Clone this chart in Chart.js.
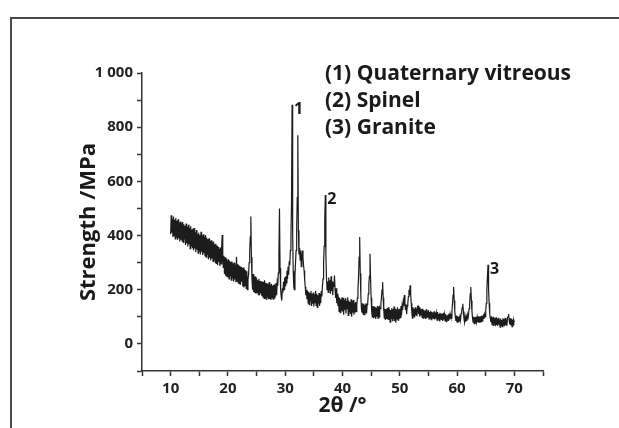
<!DOCTYPE html>
<html>
<head>
<meta charset="utf-8">
<script src="https://cdn.jsdelivr.net/npm/chart.js@4.4.1/dist/chart.umd.min.js"></script>
<style>
  html,body{margin:0;padding:0;background:#fff;}
  #wrap{position:relative;width:619px;height:428px;overflow:hidden;}
  #frame{position:absolute;left:10px;top:17px;width:640px;height:440px;border-top:2px solid #4a4a4a;border-left:2px solid #4a4a4a;}
  canvas{position:absolute;left:0;top:0;}
</style>
</head>
<body>
<div id="wrap">
  <div id="frame"></div>
  <canvas id="c" width="619" height="428"></canvas>
</div>
<script>
// 2θ sampling of the pattern (degrees)
const angleStart = 10.0;
const angleStep = 0.1;
// Strength values, one per 0.1° from 10° to 70° (rows of 2°)
const strength = [
  405,475,410,462,395,470,400,458,388,465, 395,455,385,460,390,448,378,452,385,445,
  380,450,375,442,388,436,365,444,372,432, 360,440,368,428,352,434,362,422,355,426,
  345,428,352,412,338,420,348,405,335,410, 342,402,330,414,340,400,328,405,335,396,
  325,402,320,392,330,386,312,390,318,380, 308,383,315,375,305,378,310,368,300,370,
  295,362,290,358,302,350,288,356,295,352, 402,310,282,325,258,320,252,315,248,308,
  245,312,240,308,252,302,235,305,242,298, 230,300,238,292,228,322,232,295,225,290,
  222,288,218,284,230,280,212,282,208,275, 215,272,205,268,200,238,255,300,340,395,
  470,320,240,200,258,192,250,188,248,185, 242,190,235,182,240,180,232,186,230,178,
  230,172,228,168,235,170,226,165,224,172, 222,165,228,166,218,162,222,170,216,165,
  218,170,220,175,225,180,228,215,262,330, 500,280,200,175,160,205,190,230,200,245,
  215,250,225,270,240,285,255,305,290,345, 400,520,883,400,270,210,200,250,300,345,
  420,540,770,420,330,355,310,345,285,320, 345,320,290,270,235,210,180,200,165,195,
  150,192,145,188,160,195,140,185,148,190, 138,182,152,196,142,185,135,180,148,188,
  140,185,150,195,175,215,240,300,360,450, 550,330,245,200,230,190,245,200,235,185,
  250,195,230,180,225,210,252,200,170,205, 150,185,140,175,120,170,115,165,125,172,
  120,170,108,162,125,168,112,158,130,172, 105,160,118,155,110,165,100,158,115,162,
  108,150,118,155,120,145,170,200,250,320, 395,260,180,130,115,150,110,148,108,145,
  115,150,112,145,150,185,220,250,333,240, 170,120,100,140,95,138,98,135,92,132,
  100,140,95,138,100,135,130,150,170,200, 228,170,125,95,130,88,128,92,132,90,
  135,88,128,80,125,95,132,86,128,92, 138,85,130,78,126,90,135,88,128,95,
  130,98,140,105,140,125,155,140,180,150, 125,145,110,140,150,175,200,180,216,185,
  150,120,95,135,100,130,98,135,105,130, 102,138,140,110,135,100,130,105,128,98,
  130,95,125,100,122,92,128,95,120,98, 125,92,118,96,122,90,118,95,116,92,
  120,90,116,94,112,88,118,92,110,86, 115,90,112,88,110,85,115,90,108,86,
  110,82,105,88,108,85,112,90,110,100, 95,120,150,180,210,160,120,100,85,105,
  80,102,82,100,85,108,90,112,120,135, 148,120,95,80,100,82,98,85,105,90,
  110,130,150,185,210,160,120,95,80,100, 75,98,78,100,82,98,80,102,78,100,
  78,102,82,105,85,100,105,92,110,100, 120,150,200,250,292,200,150,110,95,80,
  102,72,98,68,100,75,95,65,98,70, 92,66,96,72,90,62,94,68,88,64,
  95,68,92,65,96,70,90,66,98,100, 110,85,72,95,68,92,64,90,70,88,
  80
];
// Phase legend lines
const legendLines = ['(1) Quaternary vitreous', '(2) Spinel', '(3) Granite'];
// Peak markers
const peakLabels = ['1', '2', '3'];
const peakAngles = [31.2, 37.0, 65.4];
// Axis ranges and ticks
const xMin = 5, xMax = 75, xStep = 5;
const yMin = -100, yMax = 1000, yStep = 100;

const points = strength.map((v, i) => ({x: +(angleStart + i * angleStep).toFixed(1), y: v}));

const textPlugin = {
  id: 'texts',
  afterDraw(chart) {
    const ctx = chart.ctx;
    const xs = chart.scales.x, ys = chart.scales.y;
    ctx.save();
    ctx.fillStyle = '#1a1a1a';
    ctx.font = 'bold 21px "Open Sans"';
    ctx.textAlign = 'left';
    ctx.textBaseline = 'middle';
    legendLines.forEach((t, i) => ctx.fillText(t, 325, 74 + i * 27));
    ctx.font = 'bold 16px "Open Sans"';
    ctx.textBaseline = 'top';
    peakLabels.forEach((t, i) => {
      const idx = points.findIndex(p => Math.abs(p.x - peakAngles[i]) < 1e-6);
      const px = xs.getPixelForValue(points[idx].x);
      const py = ys.getPixelForValue(points[idx].y);
      ctx.fillText(t, px + 2, py - 3);
    });
    ctx.restore();
  }
};

new Chart(document.getElementById('c'), {
  type: 'line',
  data: {
    datasets: [{
      data: points,
      borderColor: '#1c1c1c',
      borderWidth: 1.2,
      pointRadius: 0,
      tension: 0,
      fill: false
    }]
  },
  options: {
    responsive: false,
    animation: false,
    events: [],
    layout: {padding: {left: 0, top: 73, right: 76, bottom: 0}},
    plugins: {legend: {display: false}, tooltip: {enabled: false}},
    scales: {
      x: {
        type: 'linear',
        min: xMin, max: xMax,
        afterFit(s) { s.height = 57; },
        border: {display: true, color: '#333', width: 1.5},
        grid: {drawOnChartArea: false, drawTicks: true, tickLength: 5, color: '#333', tickWidth: 1.5},
        ticks: {
          stepSize: xStep,
          autoSkip: false,
          maxRotation: 0,
          padding: 4,
          color: '#222',
          font: {family: '"Open Sans"', size: 15, weight: 'bold'},
          callback: v => (v % 10 === 0 ? String(v) : '')
        },
        title: {
          display: true,
          text: '2θ /°',
          color: '#1a1a1a',
          font: {family: '"Open Sans"', size: 21, weight: 'bold'},
          padding: {top: 0, bottom: 9}
        }
      },
      y: {
        type: 'linear',
        min: yMin, max: yMax,
        afterFit(s) { s.width = 142; },
        border: {display: true, color: '#333', width: 1.5},
        grid: {drawOnChartArea: false, drawTicks: true, tickLength: 5, color: '#333', tickWidth: 1.5},
        ticks: {
          stepSize: yStep,
          autoSkip: false,
          padding: 4,
          color: '#222',
          font: {family: '"Open Sans"', size: 15, weight: 'bold'},
          callback: v => (v >= 0 && v % 200 === 0 ? (v >= 1000 ? '1 000' : String(v)) : '')
        },
        title: {
          display: true,
          text: 'Strength /MPa',
          color: '#1a1a1a',
          font: {family: '"Open Sans"', size: 22, weight: 'bold'},
          padding: {top: 76, bottom: 0}
        }
      }
    }
  },
  plugins: [textPlugin]
});
</script>
</body>
</html>
